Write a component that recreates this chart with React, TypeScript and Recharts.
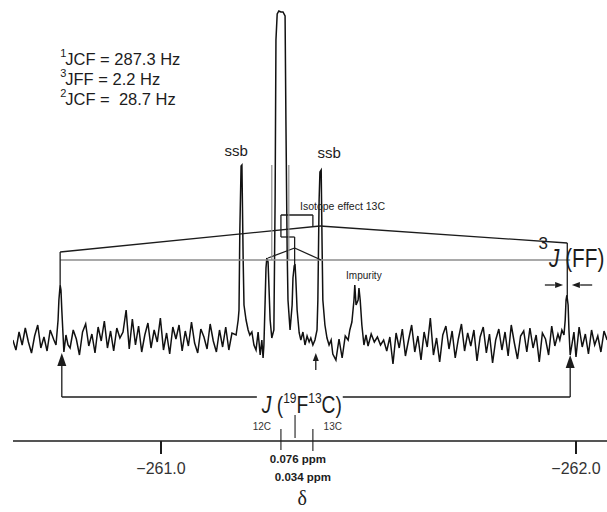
import React from "react";
import { ComposedChart, Line, XAxis, YAxis, ReferenceLine, ReferenceDot } from "recharts";

type Pt = [number, number];

const FONT = "'Liberation Sans', Arial, Helvetica, sans-serif";
const INK = "#1c1c1c";
const GREY = "#8c8c8c";

// chemical shift axis (ppm), reversed like a normal NMR plot
const X_DOMAIN: [number, number] = [-262.0747, -260.6434];
const Y_DOMAIN: [number, number] = [-99, 332];
const axisTicks = [-261.0, -262.0];

// baseline noise (step in ppm)
const NOISE_STEP = 0.0075;
const noiseRuns: { start: number; values: number[] }[] = [
  { start: -260.643, values: [2, -8, 10, -3, 14, 0, -11, 6, 17, -6, 5, -9, 12] },
  {
    start: -260.781,
    values: [
      -6, 12, 3, -13, 10, 18, -4, 8, -11, 15, 1, 21, -6, 11, -9, 14,
      4, 10, 32, -7, 23, -3, 16, -10, 7, 19, -6, 12, 0, 24, -8, 9,
      -12, 15, 3, 17, -9, 11, -4, 20, -1, -11, 13, 5, -7, 18, 1, -10,
      12, -5, 15, -8, 9,
    ],
  },
  { start: -261.414, values: [-12, -18, 3, -16, 6] },
  {
    start: -261.499,
    values: [
      -4, 8, 0, 5, -3, 2, -9, 5, -22, 9, -6, 13, -14, 2, 17, -10,
      6, -18, 10, -5, 24, -13, 4, -20, 7, 16, -7, 11, -16, 3, 18, -9,
      9, -4, 12, -19, 5, 15, -11, 8, -21, 2, 13, -8, 10, -14, 17, -1,
      -17, 6, 11, -10, 14, -6, 7, -20, 9, 3, -13, 16, -4, 8,
    ],
  },
  { start: -262.0, values: [-15, 15, -5, 8, -12, 12, -3, 6, -10, 11, 2] },
];

// peaks: [ppm, intensity]
const leftSatellite: Pt[] = [
  [-260.742, 2], [-260.747, -3], [-260.752, 22], [-260.754, 42], [-260.757, 57],
  [-260.759, 52], [-260.761, 32], [-260.764, 7], [-260.766, -10], [-260.771, 7], [-260.776, -3],
];

const centralCluster: Pt[] = [
  [-261.181, 7], [-261.186, 22], [-261.188, 32], [-261.19, 112], [-261.193, 176],
  [-261.195, 177], [-261.198, 82], [-261.2, 37], [-261.205, 22], [-261.21, 12],
  [-261.214, 7], [-261.219, 10], [-261.224, -3], [-261.229, -8], [-261.234, 10],
  [-261.239, -13], [-261.243, 2], [-261.246, -16], [-261.248, -3], [-261.251, 42],
  [-261.253, 74], [-261.255, 84], [-261.258, 80], [-261.26, 57], [-261.263, 22],
  [-261.267, 4], [-261.272, 12], [-261.275, 142], [-261.277, 302], [-261.28, 328],
  [-261.284, 331], [-261.289, 330], [-261.294, 330], [-261.299, 326], [-261.301, 222],
  [-261.304, 92], [-261.306, 42], [-261.311, 12], [-261.316, 37], [-261.318, 64],
  [-261.321, 76], [-261.323, 78], [-261.325, 62], [-261.328, 32], [-261.333, 9],
  [-261.337, 2], [-261.342, 10], [-261.347, -3], [-261.352, 6], [-261.357, 0],
  [-261.361, 4], [-261.366, -3], [-261.371, 2], [-261.376, 12], [-261.378, 42],
  [-261.381, 142], [-261.383, 170], [-261.386, 172], [-261.388, 102], [-261.39, 42],
  [-261.395, 17], [-261.4, 4], [-261.405, -3], [-261.41, 2],
];

const impurity: Pt[] = [
  [-261.451, 2], [-261.455, 12], [-261.46, 20], [-261.465, 42], [-261.467, 57],
  [-261.47, 37], [-261.475, 42], [-261.477, 54], [-261.48, 42], [-261.484, 17],
  [-261.489, -3], [-261.494, 7],
];

const rightSatellite: Pt[] = [
  [-261.961, 2], [-261.966, 12], [-261.971, 7], [-261.974, 22], [-261.976, 42],
  [-261.978, 47], [-261.981, 37], [-261.983, 12], [-261.986, -13], [-261.99, -3],
  [-261.995, 10],
];

const spectrum = [
  ...noiseRuns.flatMap((run) => run.values.map((v, i) => ({ ppm: run.start - i * NOISE_STEP, y: v }))),
  ...[leftSatellite, centralCluster, impurity, rightSatellite].flat().map(([ppm, y]) => ({ ppm, y })),
].sort((a, b) => b.ppm - a.ppm);

// annotation lines, in data units
type Seg = { a: Pt; b: Pt; c?: string; w?: number };
const segments: Seg[] = [
  { a: [-260.757, 82], b: [-261.986, 82], c: GREY, w: 1.6 },
  { a: [-260.757, 90], b: [-261.383, 116] },
  { a: [-261.383, 116], b: [-261.979, 99] },
  { a: [-260.757, 90], b: [-260.757, 57] },
  { a: [-261.979, 99], b: [-261.979, 44] },
  { a: [-261.289, 127], b: [-261.366, 127] },
  { a: [-261.366, 127], b: [-261.366, 115] },
  { a: [-261.289, 127], b: [-261.289, 105] },
  { a: [-261.289, 105], b: [-261.322, 105] },
  { a: [-261.322, 105], b: [-261.322, 94] },
  { a: [-261.258, 84], b: [-261.322, 94] },
  { a: [-261.322, 94], b: [-261.386, 82] },
  { a: [-261.322, 94], b: [-261.322, 78] },
  { a: [-261.267, 177], b: [-261.267, 82], c: GREY, w: 1.2 },
  { a: [-261.308, 177], b: [-261.308, 82], c: GREY, w: 1.2 },
  { a: [-260.761, -24], b: [-260.761, -55] },
  { a: [-260.761, -55], b: [-261.231, -55] },
  { a: [-261.438, -55], b: [-261.986, -55] },
  { a: [-261.986, -55], b: [-261.986, -26] },
  { a: [-261.373, -19], b: [-261.373, -28] },
  { a: [-261.925, 57], b: [-261.949, 57] },
  { a: [-262.039, 57], b: [-262.01, 57] },
  { a: [-261.289, -87], b: [-261.289, -108], w: 1.1 },
  { a: [-261.323, -73], b: [-261.323, -96], w: 1.1 },
  { a: [-261.366, -87], b: [-261.366, -109], w: 1.1 },
];

type Head = { at: Pt; dir: "up" | "left" | "right"; len: number; half: number };
const heads: Head[] = [
  { at: [-260.761, -11], dir: "up", len: 13, half: 4.5 },
  { at: [-261.986, -13], dir: "up", len: 13, half: 4.5 },
  { at: [-261.373, -11], dir: "up", len: 8, half: 3 },
  { at: [-261.969, 57], dir: "right", len: 8, half: 3 },
  { at: [-261.99, 57], dir: "left", len: 8, half: 3 },
];

const headPath = (cx: number, cy: number, h: Head) => {
  if (h.dir === "up") return `M${cx},${cy}L${cx - h.half},${cy + h.len}L${cx + h.half},${cy + h.len}Z`;
  if (h.dir === "right") return `M${cx},${cy}L${cx - h.len},${cy - h.half}L${cx - h.len},${cy + h.half}Z`;
  return `M${cx},${cy}L${cx + h.len},${cy - h.half}L${cx + h.len},${cy + h.half}Z`;
};

type Note = { at: Pt; draw: (x: number, y: number) => React.ReactNode };
const sup = (t: string, size: number, rise: number) => (
  <tspan fontSize={size} dy={-rise}>{t}</tspan>
);
const couplingLine = (n: string, rest: string) => (x: number, y: number) => (
  <text x={x} y={y} fontSize={16.5} fill={INK} fontFamily={FONT} style={{ whiteSpace: "pre" }}>
    {sup(n, 11, 8)}
    <tspan dy={8} dx={-1}>{rest}</tspan>
  </text>
);
const plain = (t: string, size: number, anchor: string, extra: any = {}) => (x: number, y: number) => (
  <text x={x} y={y} fontSize={size} textAnchor={anchor} fill={INK} fontFamily={FONT} {...extra}>
    {t}
  </text>
);

const notes: Note[] = [
  { at: [-260.757, 277], draw: couplingLine("1", "JCF = 287.3 Hz") },
  { at: [-260.757, 257], draw: couplingLine("3", "JFF = 2.2 Hz") },
  { at: [-260.757, 237], draw: couplingLine("2", "JCF =  28.7 Hz") },
  { at: [-261.181, 186], draw: plain("ssb", 15, "middle") },
  { at: [-261.405, 184], draw: plain("ssb", 15, "middle") },
  { at: [-261.335, 132], draw: plain("Isotope effect 13C", 10.5, "start") },
  { at: [-261.446, 63], draw: plain("Impurity", 10, "start") },
  { at: [-261.921, 93], draw: plain("3", 17, "middle") },
  {
    at: [-261.935, 75],
    draw: (x, y) => (
      <g transform={`translate(${x},${y}) scale(0.83,1)`}>
        <text x={0} y={0} fontSize={25} fill={INK} fontFamily={FONT}>
          <tspan fontStyle="italic">J</tspan>
          <tspan> (FF)</tspan>
        </text>
      </g>
    ),
  },
  {
    at: [-261.243, -71],
    draw: (x, y) => (
      <g transform={`translate(${x},${y}) scale(0.8,1)`}>
        <text x={0} y={0} fontSize={24} fill={INK} fontFamily={FONT}>
          <tspan fontStyle="italic">J</tspan>
          <tspan> (</tspan>
          {sup("19", 15, 10)}
          <tspan dy={10}>F</tspan>
          {sup("13", 15, 10)}
          <tspan dy={10}>C)</tspan>
        </text>
      </g>
    ),
  },
  { at: [-261.243, -88], draw: plain("12C", 10, "middle", { fill: "#333" }) },
  { at: [-261.414, -88], draw: plain("13C", 10, "middle", { fill: "#333" }) },
  { at: [-261.33, -121], draw: plain("0.076 ppm", 11.5, "middle", { fontWeight: "bold" }) },
  { at: [-261.342, -139], draw: plain("0.034 ppm", 11.5, "middle", { fontWeight: "bold" }) },
  { at: [-261.34, -163], draw: plain("δ", 20, "middle", { fontFamily: "'Liberation Serif', 'DejaVu Serif', serif" }) },
];

export default function App() {
  return (
    <div style={{ position: "absolute", left: 0, top: 0, width: 607, height: 512, background: "#fff" }}>
      <ComposedChart
        width={607}
        height={512}
        data={spectrum}
        margin={{ top: 10, right: 0, bottom: 0, left: 13 }}
        style={{ fontFamily: FONT }}
      >
        <XAxis
          dataKey="ppm"
          type="number"
          domain={X_DOMAIN}
          reversed
          allowDataOverflow
          ticks={axisTicks}
          interval={0}
          tickFormatter={(v: number) => `\u2212${Math.abs(v).toFixed(1)}`}
          height={71}
          tickSize={13}
          tickMargin={9}
          axisLine={{ stroke: INK, strokeWidth: 1.6 }}
          tickLine={{ stroke: INK, strokeWidth: 2 }}
          tick={{ fontSize: 16, fill: "#333", fontFamily: FONT }}
        />
        <YAxis hide type="number" domain={Y_DOMAIN} allowDataOverflow />
        <Line
          dataKey="y"
          type="linear"
          stroke="#111"
          strokeWidth={1.5}
          dot={false}
          isAnimationActive={false}
        />
        {segments.map((s, i) => (
          <ReferenceLine
            key={`s${i}`}
            segment={[{ x: s.a[0], y: s.a[1] }, { x: s.b[0], y: s.b[1] }]}
            stroke={s.c ?? INK}
            strokeWidth={s.w ?? 1.3}
            ifOverflow="visible"
          />
        ))}
        {heads.map((h, i) => (
          <ReferenceDot
            key={`h${i}`}
            x={h.at[0]}
            y={h.at[1]}
            ifOverflow="visible"
            shape={(p: any) => <path d={headPath(p.cx, p.cy, h)} fill={INK} />}
          />
        ))}
        {notes.map((n, i) => (
          <ReferenceDot
            key={`n${i}`}
            x={n.at[0]}
            y={n.at[1]}
            ifOverflow="visible"
            shape={(p: any) => <g>{n.draw(p.cx, p.cy)}</g>}
          />
        ))}
      </ComposedChart>
    </div>
  );
}
